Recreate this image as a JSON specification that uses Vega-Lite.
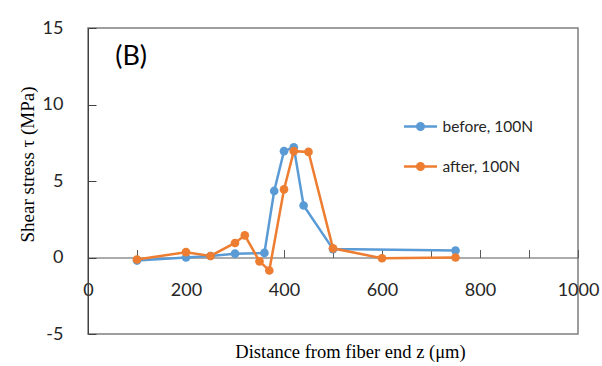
{
  "$schema": "https://vega.github.io/schema/vega-lite/v6.json",
  "width": 490,
  "height": 306,
  "autosize": "none",
  "padding": {"left": 88, "top": 28, "right": 24, "bottom": 32},
  "background": "white",
  "config": {
    "view": {"stroke": "#7f7f7f", "strokeWidth": 1.5},
    "font": "Lato"
  },
  "data": {
    "values": [
      {"series": "before, 100N", "z": 100, "tau": -0.2},
      {"series": "before, 100N", "z": 200, "tau": 0.0},
      {"series": "before, 100N", "z": 250, "tau": 0.1},
      {"series": "before, 100N", "z": 300, "tau": 0.25},
      {"series": "before, 100N", "z": 360, "tau": 0.3},
      {"series": "before, 100N", "z": 380, "tau": 4.35},
      {"series": "before, 100N", "z": 400, "tau": 6.95},
      {"series": "before, 100N", "z": 420, "tau": 7.2},
      {"series": "before, 100N", "z": 440, "tau": 3.4},
      {"series": "before, 100N", "z": 500, "tau": 0.55},
      {"series": "before, 100N", "z": 750, "tau": 0.45},
      {"series": "after, 100N", "z": 100, "tau": -0.13},
      {"series": "after, 100N", "z": 200, "tau": 0.35},
      {"series": "after, 100N", "z": 250, "tau": 0.1},
      {"series": "after, 100N", "z": 300, "tau": 0.95},
      {"series": "after, 100N", "z": 320, "tau": 1.45},
      {"series": "after, 100N", "z": 350, "tau": -0.25},
      {"series": "after, 100N", "z": 370, "tau": -0.85},
      {"series": "after, 100N", "z": 400, "tau": 4.45},
      {"series": "after, 100N", "z": 420, "tau": 6.95},
      {"series": "after, 100N", "z": 450, "tau": 6.9},
      {"series": "after, 100N", "z": 500, "tau": 0.6},
      {"series": "after, 100N", "z": 600, "tau": -0.05},
      {"series": "after, 100N", "z": 750, "tau": 0.0}
    ]
  },
  "encoding": {
    "x": {
      "field": "z",
      "type": "quantitative",
      "scale": {"domain": [0, 1000], "nice": false, "zero": false},
      "axis": {
        "title": "Distance from fiber end z (μm)",
        "values": [0, 100, 200, 300, 400, 500, 600, 700, 800, 900, 1000],
        "labelExpr": "datum.value % 200 == 0 ? '' + datum.value : ''",
        "offset": -76.5,
        "grid": false,
        "domainColor": "#595959",
        "domainWidth": 1,
        "tickColor": "#595959",
        "tickSize": -8,
        "labelPadding": 32,
        "labelFont": "Lato",
        "labelFontSize": 18,
        "labelColor": "#262626",
        "labelFlush": false,
        "labelOverlap": false,
        "titleFont": "Liberation Serif",
        "titleFontSize": 18.5,
        "titleFontWeight": "normal",
        "titleColor": "black",
        "titleX": 262,
        "titleY": 93.5,
        "titleAlign": "center",
        "titleBaseline": "middle"
      }
    },
    "y": {
      "field": "tau",
      "type": "quantitative",
      "scale": {"domain": [-5, 15], "nice": false, "zero": false},
      "axis": {
        "title": "Shear stress τ (MPa)",
        "values": [-5, 0, 5, 10, 15],
        "labelExpr": "datum.value < 0 ? '-' + abs(datum.value) : '' + datum.value",
        "grid": false,
        "domainColor": "#404040",
        "tickColor": "#404040",
        "tickSize": -8,
        "labelPadding": 33,
        "labelFont": "Lato",
        "labelFontSize": 18,
        "labelColor": "#262626",
        "labelFlush": false,
        "labelOverlap": false,
        "titleFont": "Liberation Serif",
        "titleFontSize": 19,
        "titleFontWeight": "normal",
        "titleColor": "black",
        "titleX": -60.5,
        "titleY": 136,
        "titleAlign": "center",
        "titleBaseline": "middle"
      }
    }
  },
  "layer": [
    {
      "mark": {"type": "line", "strokeWidth": 2.5},
      "encoding": {
        "color": {
          "field": "series",
          "type": "nominal",
          "scale": {"domain": ["before, 100N", "after, 100N"], "range": ["#5B9BD5", "#ED7D31"]},
          "legend": {
            "orient": "none",
            "legendX": 314.5,
            "legendY": 80.5,
            "title": null,
            "padding": 0,
            "symbolType": "M-1,0H1M0.2,0A0.2,0.2,0,1,1,-0.2,0A0.2,0.2,0,1,1,0.2,0Z",
            "symbolSize": 1089,
            "symbolStrokeWidth": 2.5,
            "symbolOpacity": 1,
            "labelFont": "Lato",
            "labelFontSize": 15.5,
            "labelColor": "#262626",
            "labelOffset": 4,
            "rowPadding": 13
          }
        }
      }
    },
    {
      "mark": {"type": "point", "filled": true, "size": 75, "opacity": 1},
      "encoding": {
        "color": {"field": "series", "type": "nominal"}
      }
    },
    {
      "transform": [{"filter": "datum.z == 100 && datum.series == 'before, 100N'"}],
      "mark": {"type": "text", "text": "(B)", "font": "Lato", "fontSize": 27, "fill": "black", "align": "center", "baseline": "middle"},
      "encoding": {
        "x": {"datum": 88},
        "y": {"datum": 13.1}
      }
    }
  ]
}
